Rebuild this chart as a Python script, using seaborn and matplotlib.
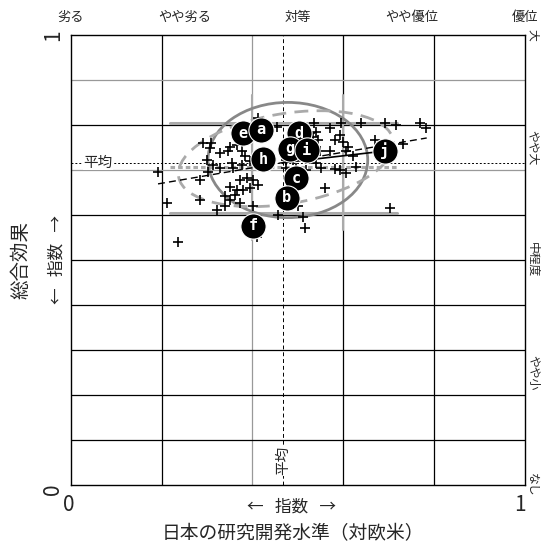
import numpy as np
import pandas as pd
import seaborn as sns
import matplotlib
matplotlib.use('Agg')
import matplotlib.pyplot as plt
from matplotlib.patches import Ellipse

# individual responses (index values, 0-1)
px = [0.413, 0.455, 0.536, 0.596, 0.640, 0.692, 0.716, 0.769, 0.783, 0.526,
      0.541, 0.545, 0.534, 0.570, 0.593, 0.581, 0.600, 0.611, 0.670, 0.732,
      0.290, 0.308, 0.306, 0.328, 0.347, 0.350, 0.365, 0.376, 0.383, 0.299,
      0.313, 0.354, 0.358, 0.376, 0.394, 0.192, 0.284, 0.302, 0.328, 0.442,
      0.475, 0.490, 0.548, 0.570, 0.607, 0.622, 0.629, 0.552, 0.581, 0.593,
      0.607, 0.541, 0.475, 0.497, 0.519, 0.372, 0.387, 0.402, 0.413, 0.394,
      0.380, 0.365, 0.350, 0.361, 0.339, 0.350, 0.211, 0.284, 0.321, 0.339,
      0.372, 0.402, 0.457, 0.512, 0.501, 0.559, 0.703, 0.515, 0.409, 0.236]
py = [0.815, 0.796, 0.804, 0.805, 0.804, 0.804, 0.800, 0.804, 0.793, 0.781,
      0.785, 0.767, 0.774, 0.793, 0.778, 0.767, 0.763, 0.752, 0.767, 0.758,
      0.759, 0.759, 0.748, 0.737, 0.741, 0.752, 0.756, 0.741, 0.730, 0.722,
      0.711, 0.715, 0.704, 0.711, 0.719, 0.696, 0.678, 0.696, 0.704, 0.722,
      0.722, 0.722, 0.741, 0.741, 0.741, 0.730, 0.707, 0.704, 0.701, 0.700,
      0.693, 0.715, 0.704, 0.704, 0.700, 0.678, 0.681, 0.678, 0.667, 0.659,
      0.656, 0.656, 0.663, 0.644, 0.641, 0.633, 0.626, 0.633, 0.611, 0.619,
      0.626, 0.619, 0.600, 0.596, 0.619, 0.659, 0.615, 0.570, 0.552, 0.540]

# labelled groups
lab = ['e', 'a', 'd', 'g', 'i', 'h', 'j', 'c', 'b', 'f']
lx = [0.379, 0.419, 0.502, 0.482, 0.520, 0.423, 0.692, 0.496, 0.476, 0.401]
ly = [0.782, 0.789, 0.782, 0.747, 0.744, 0.724, 0.742, 0.682, 0.638, 0.576]

mean_x = 0.467
mean_y = 0.716

top_pos = [0, 0.25, 0.5, 0.75, 1]
top_lab = ['劣る', 'やや劣る', '対等', 'やや優位', '優位']
right_pos = [1, 0.75, 0.5, 0.25, 0]
right_lab = ['大', 'やや大', '中程度', 'やや小', 'なし']

sns.set_style('white')
plt.rcParams['font.family'] = ['Noto Sans CJK JP', 'DejaVu Sans']

fig = plt.figure(figsize=(5.41, 5.45), dpi=100)
ax = fig.add_axes([0.131, 0.110, 0.839, 0.826])
ax.set_xlim(0, 1)
ax.set_ylim(0, 1)

# grid
for v in [0.2, 0.4, 0.6, 0.8]:
    ax.axvline(v, color='#999999' if v == 0.4 else 'black', lw=0.9, zorder=1)
for h in np.arange(0.1, 1.0, 0.1):
    c = '#999999' if round(h, 1) in (0.9, 0.7) else 'black'
    ax.axhline(h, color=c, lw=0.9, zorder=1)

# mean lines
ax.axvline(mean_x, color='black', lw=0.7, ls=(0, (4, 3)), zorder=2)
ax.axhline(mean_y, color='black', lw=0.7, ls=(0, (2, 2)), zorder=2)

# spread box
g = '#aaaaaa'
for yy in [0.804, 0.706, 0.604]:
    ax.plot([0.218, 0.718], [yy, yy], color=g, lw=2.2,
            ls=(0, (1.5, 1)) if yy == 0.706 else '-', zorder=2)
ax.plot([0.40, 0.40], [0.544, 0.867], color=g, lw=1.5, zorder=2)
ax.plot([0.60, 0.60], [0.567, 0.867], color=g, lw=1.5, zorder=2)

# ellipses
ax.add_patch(Ellipse((0.478, 0.722), 0.352, 0.256, fill=False,
                     ec='#888888', lw=2, zorder=3))
ax.add_patch(Ellipse((0.474, 0.725), 0.48, 0.2, angle=9.7, fill=False,
                     ec='#aaaaaa', lw=2, ls=(0, (5, 3)), zorder=3))

# regression and mean-to-j lines
ax.plot([0.192, 0.784], [0.669, 0.771], color='black', lw=1, ls=(0, (5, 3)), zorder=4)
ax.plot([mean_x, 0.692], [mean_y, 0.742], color='black', lw=1.2, zorder=4)

pts = pd.DataFrame({'x': px, 'y': py})
sns.scatterplot(data=pts, x='x', y='y', marker='+', s=45, color='black',
                linewidth=1.2, ax=ax, zorder=5)

grp = pd.DataFrame({'x': lx, 'y': ly, 'lab': lab})
sns.scatterplot(data=grp, x='x', y='y', s=330, color='black',
                edgecolor='white', linewidth=0.8, ax=ax, zorder=6)
for _, r in grp.iterrows():
    ax.text(r['x'], r['y'], r['lab'], color='white', fontsize=11,
            fontweight='bold', ha='center', va='center', zorder=7,
            family='DejaVu Sans Mono')

# labels inside
ax.text(0.06, mean_y, '平均', fontsize=10.5, ha='center', va='center', zorder=8,
        bbox=dict(fc='white', ec='none', pad=0.5))
ax.text(mean_x, 0.055, '平均', fontsize=10.5, ha='center', va='center', rotation=90,
        zorder=8, bbox=dict(fc='white', ec='none', pad=0.5))

ax.set_xticks([])
ax.set_yticks([])
ax.set_xlabel('')
ax.set_ylabel('')
for s in ax.spines.values():
    s.set_color('black')
    s.set_linewidth(1)

for p, t in zip(top_pos, top_lab):
    ax.text(p, 1.025, t, fontsize=9.5, ha='center', va='bottom', transform=ax.transAxes)
for p, t in zip(right_pos, right_lab):
    ax.text(1.017, p, t, fontsize=8.5, ha='center', va='center', rotation=270,
            rotation_mode='anchor', transform=ax.transAxes)

# axis ticks as text
ax.text(-0.005, -0.045, '0', fontsize=15, ha='center', va='center', transform=ax.transAxes)
ax.text(0.99, -0.045, '1', fontsize=15, ha='center', va='center', transform=ax.transAxes)
ax.text(-0.04, 1.0, '1', fontsize=15, ha='center', va='center', rotation=90,
        transform=ax.transAxes)
ax.text(-0.04, -0.01, '0', fontsize=15, ha='center', va='center', rotation=90,
        transform=ax.transAxes)

ax.text(0.485, -0.048, '←   指数   →', fontsize=12, ha='center', va='center',
        transform=ax.transAxes)
ax.text(0.49, -0.108, '日本の研究開発水準（対欧米）', fontsize=13.5, ha='center', va='center',
        transform=ax.transAxes)
ax.text(-0.03, 0.5, '←   指数   →', fontsize=12, ha='center', va='center', rotation=90,
        transform=ax.transAxes)
ax.text(-0.11, 0.5, '総合効果', fontsize=14, ha='center', va='center', rotation=90,
        transform=ax.transAxes)

fig.savefig('out.png', dpi=100)
